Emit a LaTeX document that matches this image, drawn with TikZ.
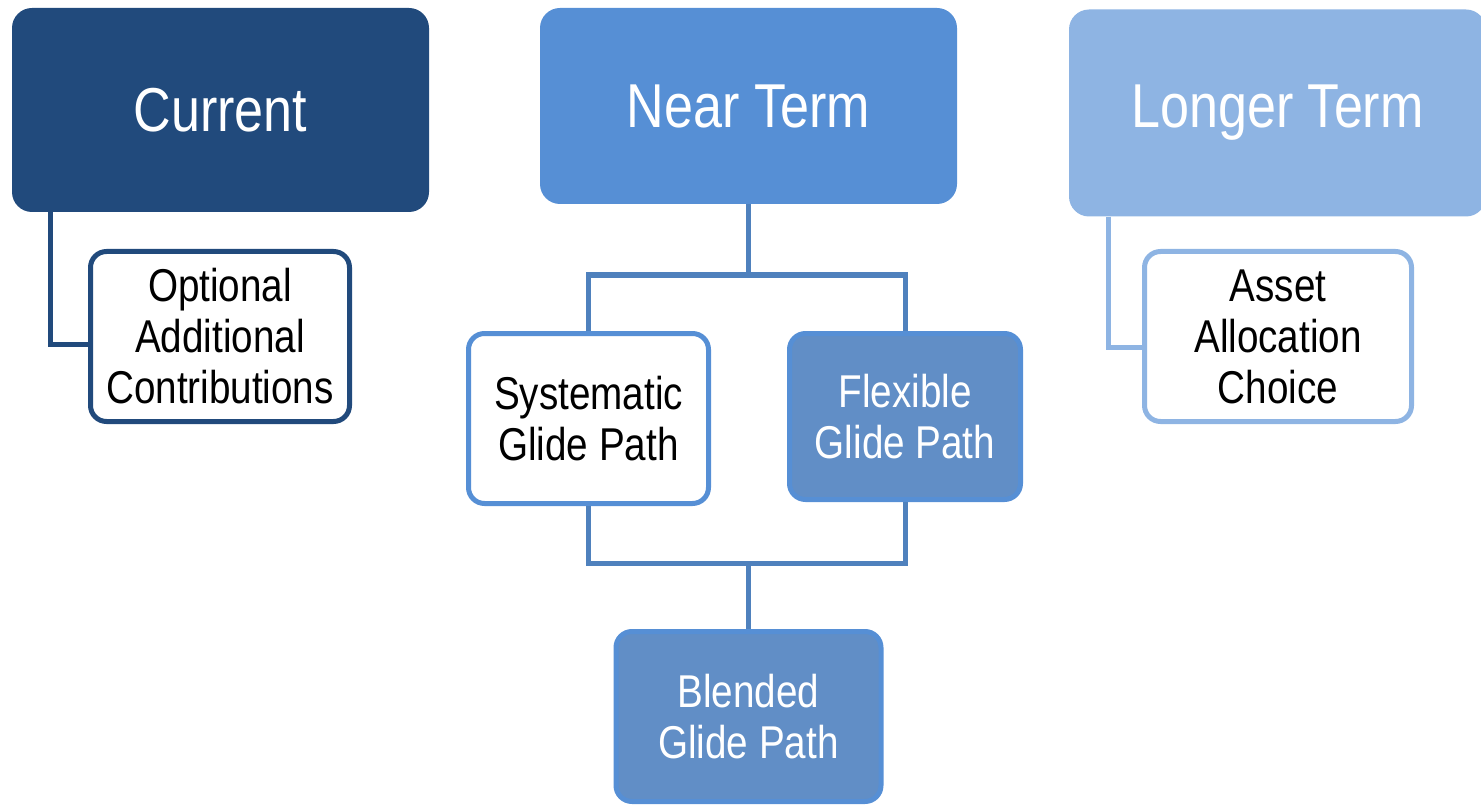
\documentclass[tikz,border=0pt]{standalone}
\usepackage{fontspec}
\newfontfamily\narrowsans[FakeStretch=0.84]{Liberation Sans}
\definecolor{navy}{RGB}{33,74,124}
\definecolor{midblue}{RGB}{86,143,213}
\definecolor{paleblue}{RGB}{142,180,227}
\definecolor{linkblue}{RGB}{79,129,189}
\definecolor{stepfill}{RGB}{97,142,198}
\tikzset{
  headbox/.style={rectangle, rounded corners=20pt, inner sep=0pt, text=white,
    font=\narrowsans\fontsize{62}{66}\selectfont},
  childbox/.style={rectangle, rounded corners=16pt, inner sep=0pt, line width=5pt,
    align=center, font=\narrowsans\fontsize{46}{51}\selectfont},
  link/.style={line width=5pt}
}
\begin{document}
\begin{tikzpicture}[x=1pt,y=-1pt]
\useasboundingbox (0,0) rectangle (1481,805);

% column heads
\node[headbox, fill=navy, minimum width=417pt, minimum height=204pt] (cur) at (220.5,110) {Current};
\node[headbox, fill=midblue, minimum width=417pt, minimum height=196pt] (near) at (748.5,106) {Near Term};
\node[headbox, fill=paleblue, minimum width=417pt, minimum height=207pt] (long) at (1277.5,113) {Longer Term};

% child boxes
\node[childbox, draw=navy, fill=white, minimum width=259pt, minimum height=170pt] (opt) at (220,336.5)
  {Optional\\Additional\\Contributions};
\node[childbox, draw=paleblue, fill=white, minimum width=267pt, minimum height=170pt] (asset) at (1278,336.5)
  {Asset\\Allocation\\Choice};
\node[childbox, draw=midblue, fill=white, minimum width=240pt, minimum height=170pt] (sys) at (588.5,418.5)
  {Systematic\\Glide Path};
\node[childbox, draw=midblue, fill=stepfill, text=white, minimum width=231pt, minimum height=166pt] (flex) at (905,416.5)
  {Flexible\\Glide Path};
\node[childbox, draw=midblue, fill=stepfill, text=white, minimum width=265pt, minimum height=170pt] (blend) at (748.5,716.5)
  {Blended\\Glide Path};

% connectors
\draw[link, navy] ([xshift=39pt]cur.south west) |- ([yshift=-8pt]opt.west);
\draw[link, paleblue] ([xshift=40pt]long.south west) |- ([yshift=-11pt]asset.west);

\coordinate (split) at (748.5,275);
\coordinate (merge) at (748.5,563);
\draw[link, linkblue] (near.south) -- (split);
\draw[link, linkblue] (sys.north) |- (split) -| (flex.north);
\draw[link, linkblue] (sys.south) |- (merge) -| (flex.south);
\draw[link, linkblue] (merge) -- (blend.north);
\end{tikzpicture}
\end{document}
